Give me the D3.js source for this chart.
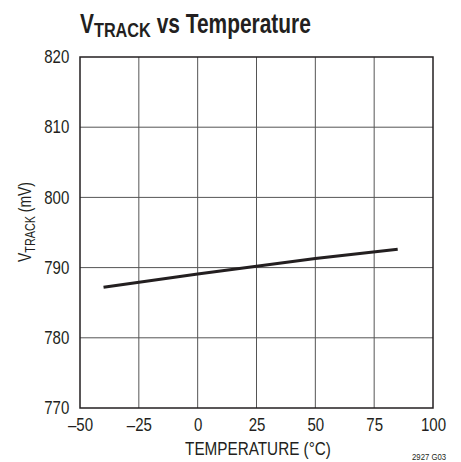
<!DOCTYPE html>
<html>
<head>
<meta charset="utf-8">
<script src="https://cdn.jsdelivr.net/npm/d3@7"></script>
<style>
  body { margin: 0; background: #fff; }
  text { font-family: "Liberation Sans", Arial, sans-serif; fill: #231f20; }
</style>
</head>
<body>
<div id="chart"></div>
<script>
// values
var temps = [-40, 0, 25, 50, 85];
var vtrack = [787.2, 789.1, 790.2, 791.3, 792.6];
var xTicks = [-50, -25, 0, 25, 50, 75, 100];
var yTicks = [770, 780, 790, 800, 810, 820];

var margin = { top: 57, right: 28, bottom: 54, left: 80 };
var W = 461, H = 462;
var width = W - margin.left - margin.right;
var height = H - margin.top - margin.bottom;
var narrow = 0.86; // reference uses a condensed face

var svg = d3.select("#chart").append("svg")
  .attr("width", W).attr("height", H);

var g = svg.append("g").attr("transform", `translate(${margin.left},${margin.top})`);

var x = d3.scaleLinear().domain([-50, 100]).range([0, width]);
var y = d3.scaleLinear().domain([770, 820]).range([height, 0]);

// squeeze a text horizontally so it spans `w` pixels
function fitWidth(sel, w) {
  var bb = sel.node().getBBox();
  sel.attr("transform", `scale(${w / bb.width},1)`);
}

// grid
g.append("g").selectAll("line").data(xTicks.slice(1, -1)).join("line")
  .attr("x1", d => x(d)).attr("x2", d => x(d))
  .attr("y1", 0).attr("y2", height)
  .attr("stroke", "#555").attr("stroke-width", 1);
g.append("g").selectAll("line").data(yTicks.slice(1, -1)).join("line")
  .attr("y1", d => y(d)).attr("y2", d => y(d))
  .attr("x1", 0).attr("x2", width)
  .attr("stroke", "#555").attr("stroke-width", 1);

// frame
g.append("rect").attr("width", width).attr("height", height)
  .attr("fill", "none").attr("stroke", "#231f20").attr("stroke-width", 1.5);

// axes (labels only)
var xaxis = d3.axisBottom(x).tickValues(xTicks).tickSize(0).tickPadding(11)
  .tickFormat(d => d < 0 ? "\u2013" + Math.abs(d) : d);
g.append("g").attr("transform", `translate(0,${height})`).call(xaxis)
  .call(a => a.select(".domain").remove())
  .selectAll("text").style("font-size", "17.5px").attr("dy", "0.71em")
  .attr("transform", `scale(${narrow},1)`);

var yaxis = d3.axisLeft(y).tickValues(yTicks).tickSize(0).tickPadding(12.5);
g.append("g").call(yaxis)
  .call(a => a.select(".domain").remove())
  .selectAll("text").style("font-size", "17.5px")
  .attr("transform", `scale(${narrow},1)`);

// data line
var line = d3.line().x((d, i) => x(temps[i])).y(d => y(d));
g.append("path").datum(vtrack)
  .attr("d", line)
  .attr("fill", "none").attr("stroke", "#231f20").attr("stroke-width", 3);

// title
var tg = svg.append("g").attr("transform", "translate(80,33)");
var title = tg.append("text").style("font-size", "27px").style("font-weight", "bold");
title.append("tspan").text("V");
title.append("tspan").attr("dy", 4).style("font-size", "21px").text("TRACK");
title.append("tspan").attr("dy", -4).text(" vs Temperature");
fitWidth(title, 231);

// x label
var xg = svg.append("g").attr("transform", "translate(258,455)");
var xl = xg.append("text").attr("text-anchor", "middle").style("font-size", "18px")
  .text("TEMPERATURE (\u00b0C)");
fitWidth(xl, 146);

// y label
var yg = svg.append("g").attr("transform", "translate(31,222) rotate(-90)");
var yl = yg.append("text").attr("text-anchor", "middle").style("font-size", "18px");
yl.append("tspan").text("V");
yl.append("tspan").attr("dy", 4).style("font-size", "14px").text("TRACK");
yl.append("tspan").attr("dy", -4).text(" (mV)");
fitWidth(yl, 80);

// figure code
var fg = svg.append("g").attr("transform", "translate(446,460)");
fg.append("text").attr("text-anchor", "end").style("font-size", "9px")
  .attr("transform", `scale(${narrow},1)`)
  .text("2927 G03");
</script>
</body>
</html>
